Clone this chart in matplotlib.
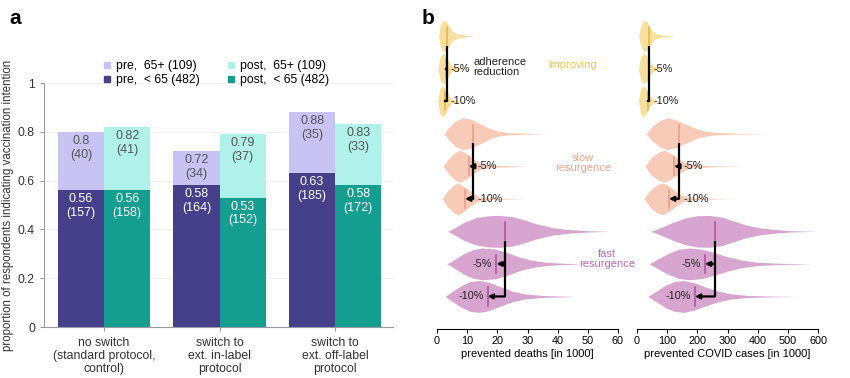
import matplotlib
matplotlib.use("Agg")
import matplotlib.pyplot as plt
from matplotlib.lines import Line2D

plt.rcParams['font.family'] = ['Liberation Sans', 'DejaVu Sans']

# ---- panel a data ----
groups = ["no switch\n(standard protocol,\ncontrol)",
          "switch to\next. in-label\nprotocol",
          "switch to\next. off-label\nprotocol"]
pre_old = [0.80, 0.72, 0.88]
pre_old_n = [40, 34, 35]
pre_young = [0.56, 0.58, 0.63]
pre_young_n = [157, 164, 185]
post_old = [0.82, 0.79, 0.83]
post_old_n = [41, 37, 33]
post_young = [0.56, 0.53, 0.58]
post_young_n = [158, 152, 172]

# ---- panel b data ----
scenarios = ["improving", "slow\nresurgence", "fast\nresurgence"]
reductions = ["", "-5%", "-10%"]

# violin outlines: (x, half width in rows)
deaths_improving = [
    [(0.5, 0), (1.0, 0.3), (2.0, 0.48), (3.0, 0.45), (4.0, 0.3), (5.0, 0.15), (7, 0.06), (10, 0.02), (12.5, 0)],
    [(0.3, 0), (1.0, 0.35), (2.0, 0.48), (3.0, 0.4), (4.0, 0.2), (5.0, 0.08), (8, 0.02), (11, 0)],
    [(0.2, 0), (1.0, 0.4), (2.0, 0.48), (3.0, 0.35), (4.0, 0.15), (5.0, 0.06), (7, 0.02), (9, 0)],
]
deaths_slow = [
    [(2.3, 0), (4, 0.2), (6, 0.38), (8.5, 0.49), (11, 0.45), (14, 0.32), (17, 0.18), (20, 0.08), (24, 0.03), (30, 0.015), (37, 0)],
    [(2.0, 0), (4, 0.25), (6, 0.42), (7.5, 0.49), (10, 0.38), (12.5, 0.2), (15, 0.07), (20, 0.03), (30, 0)],
    [(1.7, 0), (3.5, 0.25), (5.5, 0.42), (7, 0.49), (9, 0.38), (11.5, 0.2), (14, 0.06), (19, 0.02), (29, 0)],
]
deaths_fast = [
    [(3.6, 0), (6, 0.12), (9, 0.28), (13, 0.42), (17, 0.48), (21, 0.49), (25, 0.45), (29, 0.35), (33, 0.23), (38, 0.12), (43, 0.06), (50, 0.02), (57, 0)],
    [(3.3, 0), (6, 0.15), (9, 0.32), (12, 0.44), (15, 0.49), (19, 0.46), (23, 0.36), (27, 0.22), (31, 0.12), (36, 0.05), (42, 0.02), (48, 0)],
    [(2.7, 0), (5, 0.15), (8, 0.33), (11, 0.46), (14, 0.49), (17, 0.44), (21, 0.3), (25, 0.16), (29, 0.08), (35, 0.03), (46, 0)],
]
cases_improving = [
    [(5, 0), (12, 0.3), (22, 0.48), (32, 0.45), (42, 0.3), (52, 0.15), (65, 0.07), (85, 0.03), (125, 0)],
    [(5, 0), (12, 0.35), (22, 0.48), (32, 0.4), (42, 0.22), (52, 0.1), (65, 0.04), (80, 0.015), (95, 0)],
    [(5, 0), (12, 0.4), (22, 0.48), (32, 0.35), (42, 0.17), (52, 0.07), (65, 0.02), (80, 0)],
]
cases_slow = [
    [(30, 0), (50, 0.22), (75, 0.4), (100, 0.49), (125, 0.44), (150, 0.34), (175, 0.24), (200, 0.14), (230, 0.07), (270, 0.03), (330, 0.015), (430, 0)],
    [(27, 0), (45, 0.25), (70, 0.43), (92, 0.49), (115, 0.38), (140, 0.22), (165, 0.09), (200, 0.04), (260, 0.015), (350, 0)],
    [(23, 0), (42, 0.25), (65, 0.43), (86, 0.49), (108, 0.38), (132, 0.2), (155, 0.08), (190, 0.03), (250, 0.01), (330, 0)],
]
cases_fast = [
    [(46, 0), (80, 0.12), (120, 0.28), (160, 0.41), (200, 0.48), (240, 0.49), (280, 0.44), (320, 0.32), (360, 0.2), (400, 0.12), (450, 0.06), (510, 0.02), (597, 0)],
    [(40, 0), (70, 0.15), (105, 0.33), (140, 0.45), (175, 0.49), (215, 0.45), (255, 0.35), (300, 0.22), (345, 0.12), (400, 0.05), (470, 0.02), (580, 0)],
    [(36, 0), (65, 0.17), (95, 0.35), (125, 0.46), (155, 0.49), (190, 0.42), (230, 0.28), (270, 0.16), (310, 0.08), (370, 0.03), (450, 0.01), (540, 0)],
]
deaths_means = [[3.2, 3.0, 2.8], [12.0, 10.6, 9.3], [22.5, 19.7, 16.8]]
cases_means = [[41, 39, 37], [139, 123, 106], [258, 225, 192]]

c_pre_old, c_pre_young = "#c8c3f3", "#463f8a"
c_post_old, c_post_young = "#b0f1ea", "#149e8f"
fills = ["#f7df9e", "#f8cbb9", "#d8a5d0"]
mean_cols = ["#e8b24a", "#ec9a82", "#a8509a"]
text_cols = ["#f2c45a", "#eea58c", "#c46ab4"]

fig = plt.figure(figsize=(8.5, 3.78), dpi=100)

# ---------------- panel a ----------------
ax = fig.add_axes([44 / 850, 1 - 327 / 378, 349 / 850, 244 / 378])
xs = list(range(len(groups)))
w = 0.4
ax.bar([x - w / 2 for x in xs], pre_old, w, color=c_pre_old)
ax.bar([x - w / 2 for x in xs], pre_young, w, color=c_pre_young)
ax.bar([x + w / 2 for x in xs], post_old, w, color=c_post_old)
ax.bar([x + w / 2 for x in xs], post_young, w, color=c_post_young)

for i in xs:
    for xpos, v, n, col in [(i - w / 2, pre_old[i], pre_old_n[i], "#555555"),
                            (i - w / 2, pre_young[i], pre_young_n[i], "white"),
                            (i + w / 2, post_old[i], post_old_n[i], "#555555"),
                            (i + w / 2, post_young[i], post_young_n[i], "white")]:
        ax.text(xpos, v - 0.012, f"{v:g}\n({n})", ha="center", va="top",
                color=col, fontsize=9, linespacing=1.2)

ax.set_xlim(-0.52, 2.5)
ax.set_ylim(0, 1)
ax.set_yticks([0, 0.2, 0.4, 0.6, 0.8, 1])
ax.set_yticklabels(["0", "0.2", "0.4", "0.6", "0.8", "1"])
ax.set_xticks(xs)
ax.set_xticklabels(groups, fontsize=8.8, linespacing=1.1)
ax.tick_params(axis="y", labelsize=8.8, colors="#333333", length=3, color="#9a9aa5")
ax.tick_params(axis="x", length=3, color="#9a9aa5", colors="#333333", pad=4)
for s in ["top", "right"]:
    ax.spines[s].set_visible(False)
for s in ["left", "bottom"]:
    ax.spines[s].set_color("#9a9aa5")
ax.yaxis.grid(True, color="#f2f2f2", lw=0.8)
ax.set_axisbelow(True)
ax.set_ylabel("proportion of respondents indicating vaccination intention",
              fontsize=8.3, color="#333333", labelpad=3)

handles = [Line2D([], [], ls="", marker="s", ms=4, color=c_pre_old),
           Line2D([], [], ls="", marker="s", ms=4, color=c_pre_young),
           Line2D([], [], ls="", marker="s", ms=4, color=c_post_old),
           Line2D([], [], ls="", marker="s", ms=4, color=c_post_young)]
labels = ["pre,  65+ (109)", "pre,  < 65 (482)", "post,  65+ (109)", "post,  < 65 (482)"]
ax.legend(handles, labels, ncol=2, loc="center", bbox_to_anchor=(0.49, 1.04),
          frameon=False, fontsize=8.8, handletextpad=0.3, columnspacing=2.0,
          labelspacing=0.2, handlelength=1.0)

fig.text(15 / 850, 1 - 18 / 378, "a", fontsize=15, fontweight="bold", ha="center", va="center")
fig.text(428 / 850, 1 - 18 / 378, "b", fontsize=15, fontweight="bold", ha="center", va="center")


# ---------------- panel b ----------------
def draw_violins(axv, profiles, means, xmax, step, xlabel):
    for s in range(3):
        for k in range(3):
            r = 3 * s + k
            px = [p[0] for p in profiles[s][k]]
            hw = [p[1] for p in profiles[s][k]]
            axv.fill_between(px, [r - h for h in hw], [r + h for h in hw],
                             color=fills[s], lw=0, clip_on=False)
    for s in range(3):
        m = means[s]
        for k in range(3):
            r = 3 * s + k
            axv.plot([m[k], m[k]], [r - 0.28, r + 0.28], color=mean_cols[s], lw=1.1, zorder=3)
        axv.plot([m[0], m[0]], [3 * s + 0.3, 3 * s + 2], color="black", lw=1.6,
                 solid_capstyle="butt", zorder=4)
        for k in (1, 2):
            r = 3 * s + k
            if s > 0:
                axv.annotate("", xy=(m[k], r), xytext=(m[0], r),
                             arrowprops=dict(arrowstyle="-|>", color="black", lw=1.6,
                                             mutation_scale=7, shrinkA=0, shrinkB=0),
                             zorder=4)
            else:
                axv.plot([m[k], m[0]], [r, r], color="black", lw=1.6, zorder=4)
            if s < 2:
                axv.annotate(reductions[k], xy=(m[0], r), xytext=(3, 0),
                             textcoords="offset points", ha="left", va="center",
                             fontsize=7.8, color="#222222")
            else:
                axv.annotate(reductions[k], xy=(m[k], r), xytext=(-3, 0),
                             textcoords="offset points", ha="right", va="center",
                             fontsize=7.8, color="#222222")
    axv.set_ylim(9, -1)
    axv.set_xlim(0, xmax)
    axv.set_xticks(list(range(0, xmax + 1, step)))
    axv.set_yticks([])
    for sp in ["top", "right", "left"]:
        axv.spines[sp].set_visible(False)
    axv.spines["bottom"].set_linewidth(0.8)
    axv.tick_params(axis="x", labelsize=7.8, length=3, width=0.8, pad=2)
    axv.set_xlabel(xlabel, fontsize=8, labelpad=2)
    axv.patch.set_alpha(0)


axd = fig.add_axes([437 / 850, 1 - 329 / 378, 181 / 850, 325.5 / 378])
draw_violins(axd, [deaths_improving, deaths_slow, deaths_fast], deaths_means,
             60, 10, "prevented deaths [in 1000]")
axc = fig.add_axes([637 / 850, 1 - 329 / 378, 181 / 850, 325.5 / 378])
draw_violins(axc, [cases_improving, cases_slow, cases_fast], cases_means,
             600, 100, "prevented COVID cases [in 1000]")

axd.text(12, 0.95, "adherence\nreduction", fontsize=8, color="#222222",
         ha="left", va="center", linespacing=1.0)
scen_pos = [(45, 0.9), (48.4, 3.9), (56.3, 6.85)]
for s in range(3):
    axd.text(scen_pos[s][0], scen_pos[s][1], scenarios[s], fontsize=8,
             color=text_cols[s], ha="center", va="center", linespacing=1.0,
             clip_on=False)

fig.savefig("out.png", dpi=100)
